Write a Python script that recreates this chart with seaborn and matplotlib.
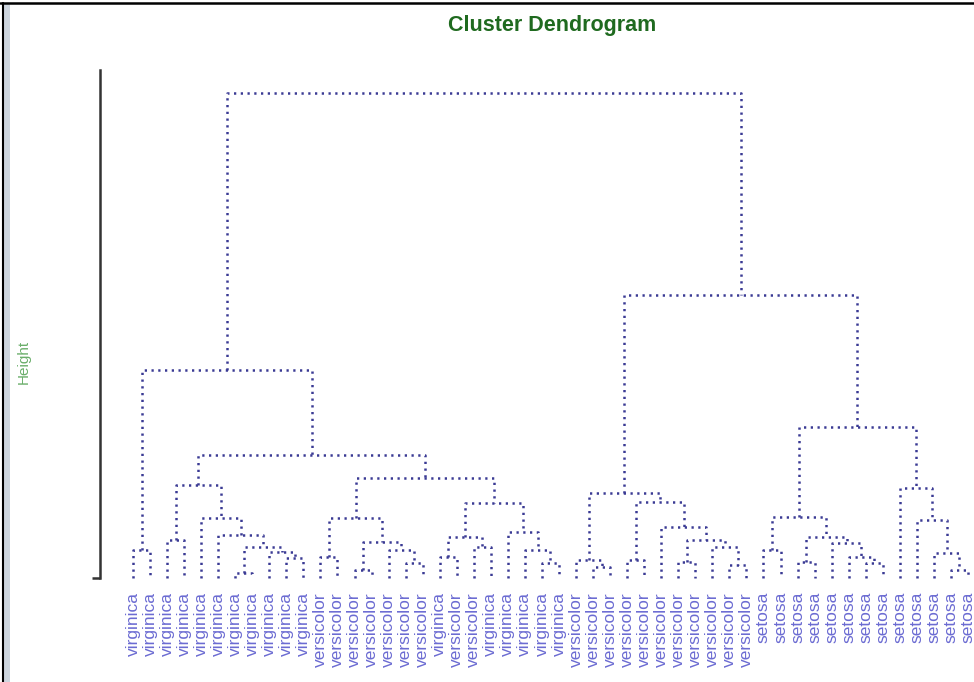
import matplotlib
matplotlib.use("Agg")
import matplotlib.pyplot as plt
from matplotlib.lines import Line2D
from matplotlib.patches import Rectangle
import seaborn as sns
import pandas as pd

# leaf labels, in the order they appear along the bottom
leaf_labels = (["virginica"] * 11 + ["versicolor"] * 7 + ["virginica"]
               + ["versicolor"] * 2 + ["virginica"] * 5 + ["versicolor"] * 11
               + ["setosa"] * 13)

# hclust-style merge table: negative = leaf number, positive = earlier merge row
merge_left = [-7, -14, -49, -28, -36, -17, -25, -44, -33, -40, -30, -27, -10, -12,
              -19, -43, -9, -48, -1, -16, -24, -38, 1, -21, -35, -42, 2, -3, 9, 15,
              10, -6, -23, -32, -47, -5, 14, 22, 30, 11, 12, -46, 28, 37, 43, 38,
              19, 41, 47]
merge_right = [-8, -15, -50, -29, -37, -18, -26, -45, -34, -41, -31, 4, -11, -13,
               -20, 8, 13, 3, -2, 6, 7, -39, 17, -22, 5, 16, 20, -4, 25, 24, 26,
               23, 21, 29, 18, 32, 27, 31, 33, 34, 40, 35, 36, 39, 44, 42, 45, 46,
               48]
merge_height = [0.07, 0.11, 0.11, 0.16, 0.19, 0.21, 0.21, 0.21, 0.23, 0.23, 0.26,
                0.26, 0.29, 0.30, 0.30, 0.30, 0.37, 0.36, 0.40, 0.40, 0.40, 0.40,
                0.44, 0.44, 0.44, 0.50, 0.51, 0.54, 0.54, 0.59, 0.59, 0.61, 0.66,
                0.73, 0.83, 0.86, 0.86, 0.87, 1.07, 1.09, 1.21, 1.29, 1.33, 1.43,
                1.76, 2.16, 2.97, 4.04, 6.93]

# leaf order from the tree (left child first)
def leaves_of(node):
    if node < 0:
        return [-node]
    k = node - 1
    return leaves_of(merge_left[k]) + leaves_of(merge_right[k])

order = leaves_of(len(merge_height))
leaf_pos = {leaf: i + 1 for i, leaf in enumerate(order)}

def node_xy(node):
    if node < 0:
        return leaf_pos[-node], 0.0
    k = node - 1
    x1, _ = node_xy(merge_left[k])
    x2, _ = node_xy(merge_right[k])
    return (x1 + x2) / 2, merge_height[k]

# one U-shaped path per merge
rows = []
for k in range(len(merge_height)):
    x1, h1 = node_xy(merge_left[k])
    x2, h2 = node_xy(merge_right[k])
    h = merge_height[k]
    for x, y in [(x1, h1), (x1, h), (x2, h), (x2, h2)]:
        rows.append({"seg": k, "x": x, "y": y})
segs = pd.DataFrame(rows)

sns.set_theme(style="white")
plt.rcParams['font.family'] = ['Liberation Sans', 'DejaVu Sans']

fig = plt.figure(figsize=(9.74, 6.82), dpi=100)
W, H = 974, 682
ax = fig.add_axes([100 / W, (H - 578) / H, (W - 100) / W, (578 - 70) / H])

sns.lineplot(data=segs, x="x", y="y", units="seg", estimator=None, sort=False,
             color="#3a3a94", linewidth=1.8, linestyle=(0, (0.9, 1.8)),
             clip_on=False, legend=False, ax=ax)

ax.set_xlim(1 - 33 / 17.04, 1 - 33 / 17.04 + 874 / 17.04)
ax.set_ylim(0, 508 / 70)
ax.set_xlabel("")
ax.set_ylabel("")

ax.set_xticks(range(1, len(order) + 1))
ax.set_xticklabels([leaf_labels[l - 1] for l in order], rotation=90)
ax.tick_params(axis="x", length=0, pad=10, labelsize=12.5, labelcolor="#6b6bd2")
ax.set_yticks([0])
ax.set_yticklabels([""])
ax.tick_params(axis="y", left=True, length=6, width=1.8, color="#333333")

for side in ["top", "right", "bottom"]:
    ax.spines[side].set_visible(False)
ax.spines["left"].set_linewidth(1.8)
ax.spines["left"].set_color("#333333")

fig.text(552 / W, 1 - 25 / H, "Cluster Dendrogram", ha="center", va="center",
         fontsize=15.5, fontweight="bold", color="#1f6a1f")
fig.text(24 / W, 1 - 362 / H, "Height", ha="center", va="center", rotation=90,
         fontsize=11, color="#6aae6a")

# window frame on the top and left edges
fig.add_artist(Rectangle((4 / W, 0), 6 / W, 1 - 4 / H, transform=fig.transFigure,
                         color="#cdd5de", lw=0))
fig.add_artist(Line2D([3 / W, 3 / W], [0, 1 - 3 / H], transform=fig.transFigure,
                      color="black", lw=1.5))
fig.add_artist(Line2D([0, 1], [1 - 3 / H, 1 - 3 / H], transform=fig.transFigure,
                      color="black", lw=1.8))

fig.savefig("out.png", dpi=100)
